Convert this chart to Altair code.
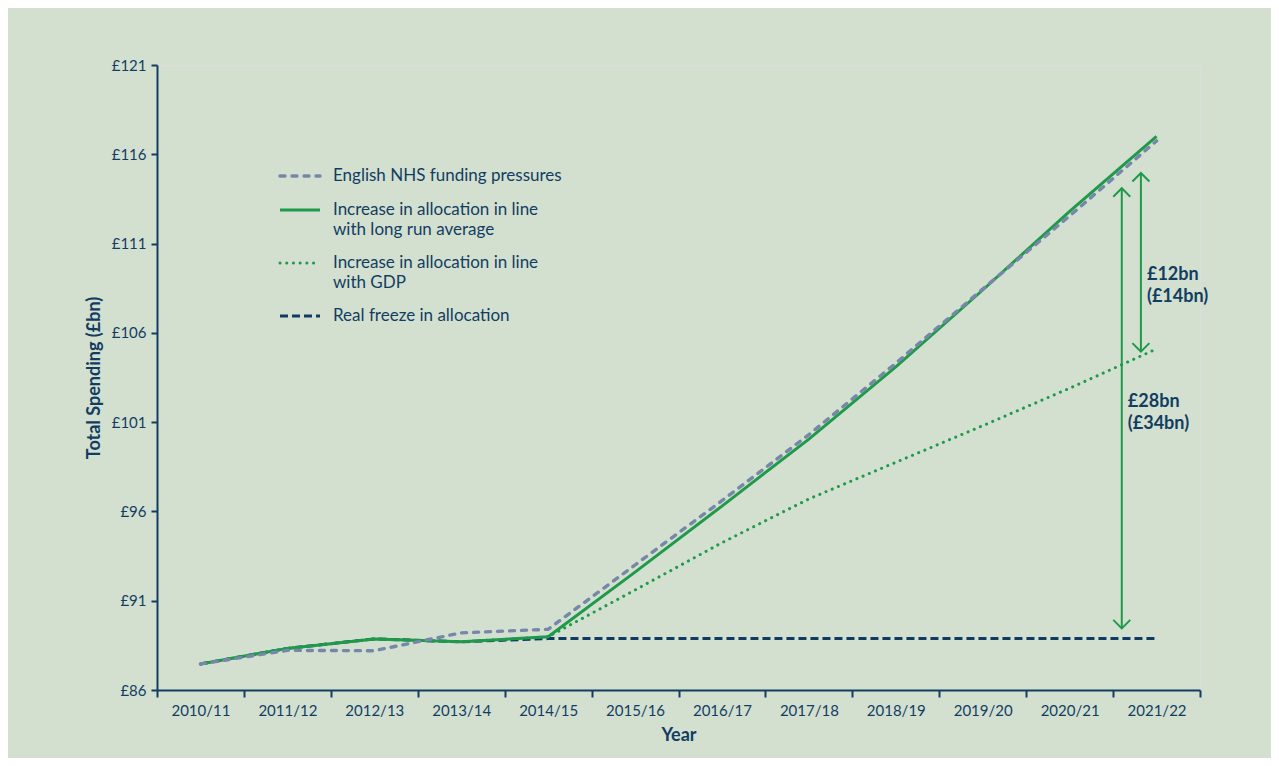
import altair as alt
import pandas as pd

# ---- data ----
years = ["2010/11", "2011/12", "2012/13", "2013/14", "2014/15", "2015/16",
         "2016/17", "2017/18", "2018/19", "2019/20", "2020/21", "2021/22"]
pressures = [87.46, 88.22, 88.20, 89.20, 89.40, 93.00, 96.60, 100.30, 104.30, 108.45, 112.55, 116.75]
long_run = [87.46, 88.33, 88.86, 88.70, 88.98, 92.60, 96.30, 100.05, 104.10, 108.40, 112.80, 117.00]
gdp = [87.46, 88.33, 88.86, 88.70, 88.98, 91.60, 94.25, 96.70, 98.75, 100.80, 102.90, 105.10]
freeze = [87.46, 88.33, 88.86, 88.70, 88.88, 88.88, 88.88, 88.88, 88.88, 88.88, 88.88, 88.88]

series_names = ["English NHS funding pressures",
                "Increase in allocation in line\nwith long run average",
                "Increase in allocation in line\nwith GDP",
                "Real freeze in allocation"]

# annotations (double-headed arrows and labels), in data units
arrow_x = [11.10, 11.32]
arrow_lo = [89.45, 104.95]
arrow_hi = [114.10, 114.95]
note_x = [11.17, 11.39]
note_y = [102.13, 109.24]
note_text = ["£28bn\n(£34bn)", "£12bn\n(£14bn)"]

NAVY = "#123d63"
GREEN = "#1e9a4a"
GREY = "#7687aa"
DARK = "#0e3a64"
BG = "#d3e0cf"

rows = []
for key, vals in [("pressures", pressures), ("long_run", long_run), ("gdp", gdp), ("freeze", freeze)]:
    for i, v in enumerate(vals):
        rows.append({"series": key, "x": i + 0.5, "value": v})
df = pd.DataFrame(rows)

arrows = pd.DataFrame({"x": arrow_x, "lo": arrow_lo, "hi": arrow_hi})
notes = pd.DataFrame({"x": note_x, "value": note_y, "text": note_text})

label_js = "[" + ",".join("'" + y + "'" for y in years) + "]"

W, H = 1043, 625
half_band = W / len(years) / 2

xscale = alt.Scale(domain=[0, 12], nice=False, zero=False)
yscale = alt.Scale(domain=[86, 121], nice=False, zero=False)

xaxis = alt.Axis(values=list(range(13)), title="Year",
                 labelExpr=f"datum.value < 12 ? {label_js}[datum.value] : ''",
                 labelOffset=half_band, labelFlush=False, labelOverlap=False,
                 grid=False, tickSize=7, tickWidth=2, domainWidth=2,
                 domainColor=NAVY, tickColor=NAVY, labelColor=NAVY, titleColor=NAVY,
                 labelFontSize=15, labelPadding=6, titleFontSize=18, titleFontWeight="bold",
                 titlePadding=8)
yaxis = alt.Axis(values=[86, 91, 96, 101, 106, 111, 116, 121], title="Total Spending (£bn)",
                 labelExpr="'£' + datum.value", labelFlush=False, labelOverlap=False,
                 grid=False, tickSize=6, tickWidth=2, domainWidth=2,
                 domainColor=NAVY, tickColor=NAVY, labelColor=NAVY, titleColor=NAVY,
                 labelFontSize=15, labelPadding=5, titleFontSize=18, titleFontWeight="bold",
                 titlePadding=8)


def X(field):
    return alt.X(field, type="quantitative", scale=xscale, axis=xaxis)


def Y(field):
    return alt.Y(field, type="quantitative", scale=yscale, axis=yaxis)


base = alt.Chart(df)

freeze_line = base.transform_filter(alt.datum.series == "freeze").mark_line(
    color=DARK, strokeWidth=3, strokeDash=[8, 4]).encode(x=X("x"), y=Y("value"))
gdp_line = base.transform_filter(alt.datum.series == "gdp").mark_line(
    color=GREEN, strokeWidth=3, strokeDash=[0.1, 6.6], strokeCap="round").encode(x=X("x"), y=Y("value"))
long_line = base.transform_filter(alt.datum.series == "long_run").mark_line(
    color=GREEN, strokeWidth=3).encode(x=X("x"), y=Y("value"))
press_line = base.transform_filter(alt.datum.series == "pressures").mark_line(
    color=GREY, strokeWidth=3.4, strokeDash=[5, 7], strokeCap="round").encode(x=X("x"), y=Y("value"))

arrow_shaft = alt.Chart(arrows).mark_rule(color=GREEN, strokeWidth=2).encode(
    x=X("x"), y=Y("lo"), y2="hi")
arrow_up = alt.Chart(arrows).mark_point(
    shape="M -1 1 L 0 0 L 1 1", size=289, filled=False, color=GREEN, strokeWidth=2, opacity=1
).encode(x=X("x"), y=Y("hi"))
arrow_down = alt.Chart(arrows).mark_point(
    shape="M -1 -1 L 0 0 L 1 -1", size=289, filled=False, color=GREEN, strokeWidth=2, opacity=1
).encode(x=X("x"), y=Y("lo"))
note_marks = alt.Chart(notes).mark_text(
    align="left", baseline="middle", lineBreak="\n", fontSize=18, fontWeight="bold",
    color=NAVY, lineHeight=22).encode(x=X("x"), y=Y("value"), text="text:N")

# ---- hand-drawn legend ----
one = pd.DataFrame({"k": [0]})
legend_layers = []
legend_styles = [
    dict(color=GREY, strokeWidth=3.4, strokeDash=[5, 7], strokeCap="round"),
    dict(color=GREEN, strokeWidth=3),
    dict(color=GREEN, strokeWidth=3, strokeDash=[0.1, 6.6], strokeCap="round"),
    dict(color=DARK, strokeWidth=3, strokeDash=[8, 4]),
]
line_y = [111, 145, 198, 251]
text_y = [111, 145, 198, 251]
for name, st, ly, ty in zip(series_names, legend_styles, line_y, text_y):
    legend_layers.append(alt.Chart(one).mark_rule(**st).encode(
        x=alt.value(123), x2=alt.value(163), y=alt.value(ly)))
    legend_layers.append(alt.Chart(one).mark_text(
        align="left", baseline="middle", lineBreak="\n", fontSize=17, color=NAVY, lineHeight=20
    ).encode(x=alt.value(176), y=alt.value(ty), text=alt.value(name)))

chart = alt.layer(
    freeze_line, gdp_line, long_line, press_line,
    arrow_shaft, arrow_up, arrow_down, note_marks,
    *legend_layers
).properties(
    width=W, height=H,
    autosize=alt.AutoSizeParams(type="none"),
    padding={"left": 149, "top": 57, "right": 71, "bottom": 68},
    background=BG,
).configure_view(stroke=None).configure(font="Lato")

chart.save("out.html", embed_options={"renderer": "svg", "actions": False})
